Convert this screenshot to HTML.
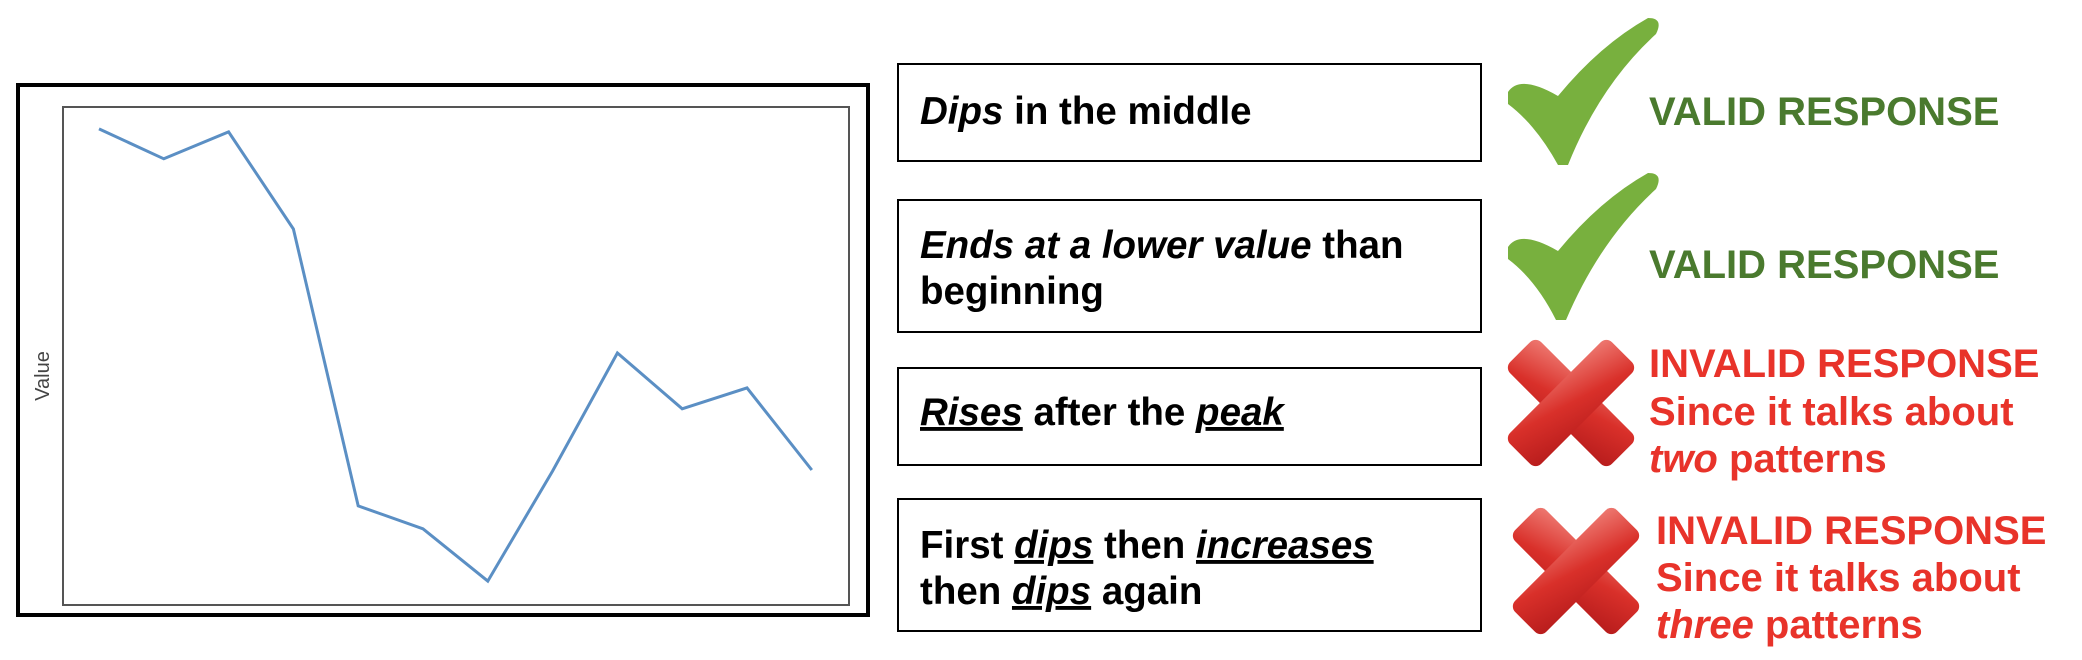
<!DOCTYPE html>
<html><head><meta charset="utf-8"><style>
html,body{margin:0;padding:0;background:#fff;}
svg{display:block;}
text{font-family:"Liberation Sans",Arial,sans-serif;}
</style></head><body>
<svg id="root" width="2082" height="660" viewBox="0 0 2082 660" xmlns="http://www.w3.org/2000/svg">
<defs>
<linearGradient id="xg" x1="0" y1="0" x2="1" y2="1">
<stop offset="0" stop-color="#ee7a72"/><stop offset="0.5" stop-color="#d9302a"/><stop offset="1" stop-color="#b71c1c"/>
</linearGradient>
</defs>
<rect x="18" y="85" width="850" height="530" fill="none" stroke="#000" stroke-width="4"/>
<rect x="63" y="107" width="786" height="498" fill="none" stroke="#555" stroke-width="2"/>
<text x="0" y="0" transform="translate(49,376) rotate(-90)" text-anchor="middle" font-size="20" fill="#444">Value</text>
<g id="series"></g>

<g font-size="38.5" font-weight="bold" fill="#000">
<rect x="898" y="64" width="583" height="97" fill="none" stroke="#000" stroke-width="2"/>
<text x="920" y="124"><tspan font-style="italic">Dips</tspan> in the middle</text>
<rect x="898" y="200" width="583" height="132" fill="none" stroke="#000" stroke-width="2"/>
<text x="920" y="258"><tspan font-style="italic">Ends at a lower value</tspan> than</text>
<text x="920" y="304">beginning</text>
<rect x="898" y="368" width="583" height="97" fill="none" stroke="#000" stroke-width="2"/>
<text x="920" y="425"><tspan font-style="italic" text-decoration="underline">Rises</tspan> after the <tspan font-style="italic" text-decoration="underline">peak</tspan></text>
<rect x="898" y="499" width="583" height="132" fill="none" stroke="#000" stroke-width="2"/>
<text x="920" y="558">First <tspan font-style="italic" text-decoration="underline">dips</tspan> then <tspan font-style="italic" text-decoration="underline">increases</tspan></text>
<text x="920" y="604">then <tspan font-style="italic" text-decoration="underline">dips</tspan> again</text>
</g>

<path d="M1508,92 Q1520,74 1558,96 Q1600,45 1648,18 Q1664,18 1656,34 Q1600,85 1568,165 L1558,165 Q1536,125 1508,104 Z" fill="#78b03e"/>
<path d="M1508,247 Q1520,229 1558,251 Q1600,200 1648,173 Q1664,173 1656,189 Q1600,240 1566,320 L1556,320 Q1536,280 1508,259 Z" fill="#78b03e"/>

<g transform="translate(1571,403) rotate(45)">
<rect x="-72" y="-22" width="144" height="44" rx="8" fill="url(#xg)"/>
<rect x="-22" y="-72" width="44" height="144" rx="8" fill="url(#xg)"/>
</g>
<g transform="translate(1576,571) rotate(45)">
<rect x="-72" y="-22" width="144" height="44" rx="8" fill="url(#xg)"/>
<rect x="-22" y="-72" width="44" height="144" rx="8" fill="url(#xg)"/>
</g>

<g font-weight="bold" font-size="40">
<text x="1649" y="125" fill="#4a7a2e">VALID RESPONSE</text>
<text x="1649" y="278" fill="#4a7a2e">VALID RESPONSE</text>
<text x="1649" y="377" fill="#e8332a">INVALID RESPONSE</text>
<text x="1649" y="425" fill="#e8332a">Since it talks about</text>
<text x="1649" y="472" fill="#e8332a"><tspan font-style="italic">two</tspan> patterns</text>
<text x="1656" y="544" fill="#e8332a">INVALID RESPONSE</text>
<text x="1656" y="591" fill="#e8332a">Since it talks about</text>
<text x="1656" y="638" fill="#e8332a"><tspan font-style="italic">three</tspan> patterns</text>
</g>
</svg>
<script>
const categories = [1,2,3,4,5,6,7,8,9,10,11,12];
const values = [95.6,89.6,95.0,75.5,19.9,15.3,4.8,26.9,50.6,39.4,43.6,27.1];
const yDomain = [0,100];
const plot = {x0:99, step:64.8, top:107, bottom:605};
function xScale(i){return plot.x0 + i*plot.step;}
function yScale(v){return plot.bottom - (v - yDomain[0])/(yDomain[1]-yDomain[0])*(plot.bottom-plot.top);}
const g = document.getElementById('series');
const pts = categories.map((c,i)=>xScale(i).toFixed(1)+','+yScale(values[i]).toFixed(1)).join(' ');
const line = document.createElementNS('http://www.w3.org/2000/svg','polyline');
line.setAttribute('points', pts);
line.setAttribute('fill','none');
line.setAttribute('stroke','#5b8fc4');
line.setAttribute('stroke-width','3');
line.setAttribute('stroke-linejoin','miter');


g.appendChild(line);
</script>
</body></html>
